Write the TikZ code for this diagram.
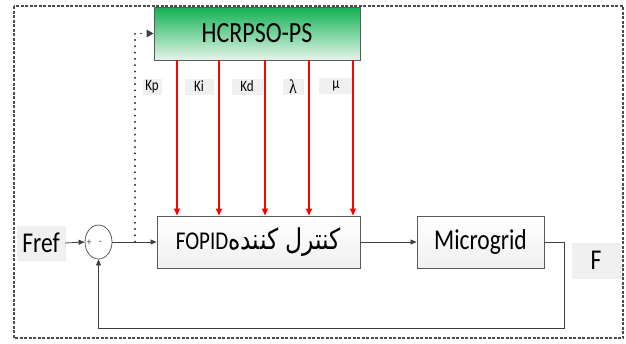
\documentclass[tikz,border=0pt]{standalone}
\usepackage{graphicx}
\usepackage{fontspec}
\setmainfont{Carlito}
\newfontfamily\arabicfont[Script=Arabic]{DejaVu Sans}
\newfontfamily\greekserif{Liberation Serif}
\TeXXeTstate=1
\usetikzlibrary{arrows.meta,shapes.geometric,shadows}
\newcommand{\tallt}[1]{\scalebox{1}[1.22]{#1}}
\definecolor{edgegray}{HTML}{5A5A5A}
\definecolor{linegray}{HTML}{404040}
\definecolor{topgreen}{HTML}{10B152}
\definecolor{botgreen}{HTML}{E6F4EA}
\definecolor{boxfill}{HTML}{F0F0F0}
\tikzset{
  blockbox/.style={draw=edgegray, line width=0.9pt, top color=white, bottom color=boxfill,
    drop shadow={shadow xshift=1.2pt, shadow yshift=-1.2pt, fill=gray!45},
    inner sep=0pt, align=center},
  optbox/.style={draw=edgegray, line width=0.9pt, top color=topgreen, bottom color=botgreen,
    drop shadow={shadow xshift=1.2pt, shadow yshift=-1.2pt, fill=gray!45},
    inner sep=0pt, minimum width=206pt, minimum height=53pt},
  tagbox/.style={fill=boxfill, inner sep=0pt,
    drop shadow={shadow xshift=0.8pt, shadow yshift=-0.8pt, fill=gray!30}},
  flow/.style={draw=linegray, line width=0.8pt, -{Triangle[length=6pt,width=5pt]}},
  gainline/.style={draw=red, line width=1.6pt, -{Triangle[length=7pt,width=6pt]}},
  probe/.style={draw=linegray, line width=1.2pt, line cap=round, dash pattern=on 0.8pt off 5.5pt},
  signtext/.style={font=\fontsize{10}{11}\selectfont, inner sep=0pt, text=linegray},
}
\begin{document}
\begin{tikzpicture}[x=1pt,y=-1pt]
\useasboundingbox (0,0) rectangle (626,343);

% outer frame
\draw[draw=gray!60!black, line width=1.2pt, dash pattern=on 3pt off 1.5pt] (14,6) rectangle (623,338);

% optimiser block
\node[optbox] (opt) at (257,33.5) {\tallt{\fontsize{24}{28}\selectfont HCRPSO-PS}};

% controller and plant
\node[blockbox, minimum width=203pt, minimum height=52pt] (ctrl) at (258.5,242)
  {\tallt{\fontsize{23.5}{26}\selectfont\arabicfont\beginR کنترل کننده\beginL{\rmfamily\fontsize{21}{24}\selectfont FOPID}\endL\endR}};
\node[blockbox, minimum width=127pt, minimum height=52pt] (plant) at (480.5,242)
  {\tallt{\fontsize{23.5}{28}\selectfont Microgrid}};

% summing junction
\node[ellipse, draw=edgegray, line width=0.8pt, fill=white, minimum width=27pt, minimum height=34pt, inner sep=0pt] (sum) at (98.5,242) {};
\node[signtext] (plus) at (89,243) {+};
\node[signtext] (minus) at (100.5,242.5) {-};

% input / output tags
\node[tagbox, minimum width=48pt, minimum height=34pt] (fref) at (41,243) {\tallt{\fontsize{23.5}{28}\selectfont Fref}};
\node[tagbox, minimum width=48pt, minimum height=35pt] (fout) at (596,260.5) {\tallt{\fontsize{23.5}{28}\selectfont F}};

% gain labels
\node[tagbox, minimum width=19pt, minimum height=16pt] (kp) at (152,86.5) {\tallt{\fontsize{13}{15}\selectfont Kp}};
\node[tagbox, minimum width=28pt, minimum height=16pt] (ki) at (199,86.5) {\tallt{\fontsize{13}{15}\selectfont Ki}};
\node[tagbox, minimum width=30pt, minimum height=16pt] (kd) at (247,86.5) {\tallt{\fontsize{13}{15}\selectfont Kd}};
\node[tagbox, minimum width=20pt, minimum height=16pt] (lam) at (293,86.5) {\tallt{\fontsize{16}{17}\selectfont\greekserif λ}};
\node[tagbox, minimum width=34pt, minimum height=16pt] (mu) at (336,85.5) {\tallt{\fontsize{13}{15}\selectfont μ}};

% gain signals from optimiser to controller
\foreach \gx in {177,219,265,309,353}
  \draw[gainline] (opt.south -| \gx,0) -- (ctrl.north -| \gx,0);

% forward path
\coordinate (tap) at (135,242);
\coordinate (fbcorner) at (564,242);
\coordinate (fbbottom) at (564,328);
\draw[flow] (fref.east) -- (sum.west);
\draw[flow] (sum.east) -- (ctrl.west);
\draw[flow] (ctrl.east) -- (plant.west);

% error signal to optimiser
\draw[probe] (tap) -- (tap |- opt.west) -- ([xshift=-8pt]opt.west);
\draw[draw=none, fill=linegray] (opt.west) -- ++(-7,-4) -- ++(0,8) -- cycle;

% feedback path
\draw[flow] (plant.east) -- (fbcorner) -- (fbbottom) -- (fbbottom -| sum.south) -- (sum.south);
\end{tikzpicture}
\end{document}
